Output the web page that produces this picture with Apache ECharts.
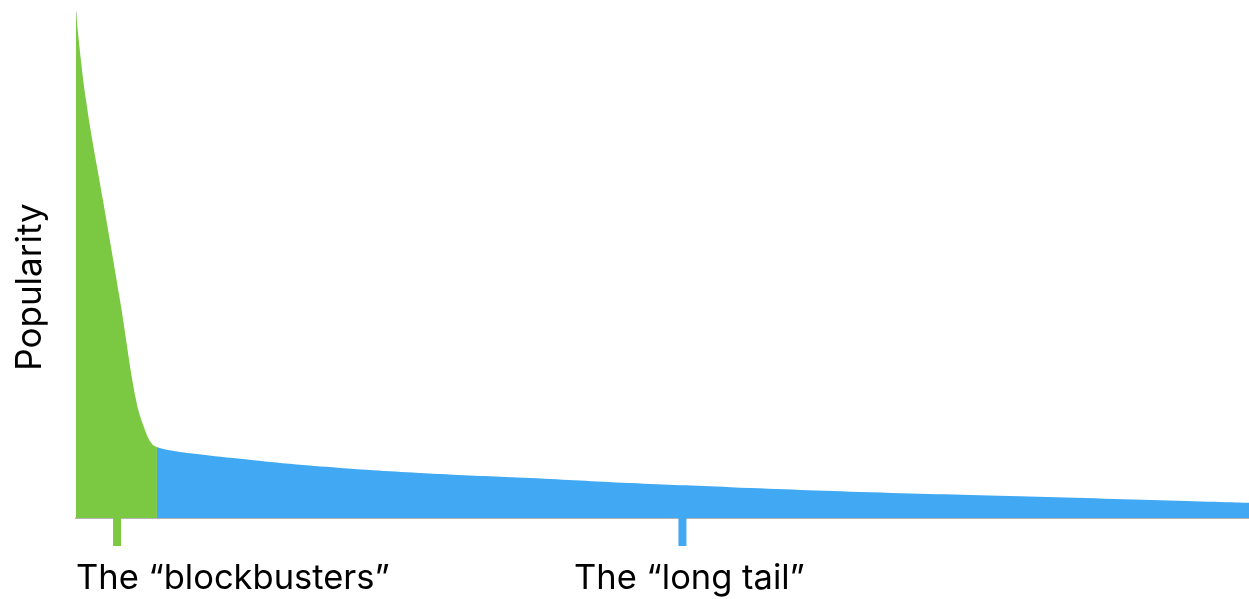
<!DOCTYPE html>
<html>
<head>
<meta charset="utf-8">
<script src="https://cdn.jsdelivr.net/npm/echarts@6/dist/echarts.min.js"></script>
<style>
html,body{margin:0;padding:0;background:#fff;}
#chart{width:1249px;height:599px;}
</style>
</head>
<body>
<div id="chart"></div>
<script>
// Rank of product (0..1000) vs popularity (0..100)
const blockbusterX = [0, 8.5, 23.0, 37.5, 51.2, 58.8, 64.8, 69];
const blockbusterY = [100, 82.6, 62.8, 43.1, 23.3, 17.4, 14.6, 14.0];
const longTailX = [69, 80, 97, 140, 182, 225, 310, 387, 472, 558, 677, 805, 1000];
const longTailY = [14.0, 13.4, 12.8, 11.7, 10.7, 9.9, 8.7, 7.9, 6.9, 6.1, 5.1, 4.3, 3.0];
const tickLabels = ['The \u201cblockbusters\u201d', 'The \u201clong tail\u201d'];
const tickX = [35, 517];
const yAxisTitle = 'Popularity';

const GREEN = '#7bc843';
const BLUE = '#41a8f3';
const FONT = 'Inter, "Liberation Sans", Arial, sans-serif';

const zip = (xs, ys) => xs.map((x, i) => [x, ys[i]]);
const tickColors = [GREEN, BLUE];
const labelStyles = [
  {align: 'left', offset: [-41, 1]},
  {align: 'center', offset: [7, 1]}
];

const chart = echarts.init(document.getElementById('chart'), null, {renderer: 'canvas'});
chart.setOption({
  animation: false,
  backgroundColor: '#fff',
  grid: {left: 76, right: 0, top: 12, bottom: 81},
  xAxis: {
    type: 'value', min: 0, max: 1000,
    axisLine: {show: true, lineStyle: {color: '#b4b4b4', width: 2}},
    axisTick: {show: false}, axisLabel: {show: false}, splitLine: {show: false}
  },
  yAxis: {
    type: 'value', min: 0, max: 100,
    axisLine: {show: true, lineStyle: {color: '#cfcfcf', width: 1}},
    axisTick: {show: false}, axisLabel: {show: false}, splitLine: {show: false}
  },
  graphic: [{
    type: 'text', x: 13, y: 287, originX: 0, originY: 0,
    rotation: Math.PI / 2,
    style: {text: yAxisTitle, font: '35px ' + FONT, fill: '#000', align: 'center', verticalAlign: 'top'}
  }],
  series: [
    {
      type: 'line', data: zip(longTailX, longTailY), smooth: 0.4, showSymbol: false,
      lineStyle: {width: 0}, areaStyle: {color: BLUE, opacity: 1}, z: 2
    },
    {
      type: 'line', data: zip(blockbusterX, blockbusterY), smooth: 0.4, showSymbol: false,
      lineStyle: {width: 0}, areaStyle: {color: GREEN, opacity: 1}, z: 3
    },
    {
      type: 'scatter', clip: false, z: 5,
      symbol: 'rect', symbolSize: [8, 28], symbolOffset: [0, 14],
      data: tickX.map((x, i) => ({
        value: [x, 0],
        itemStyle: {color: tickColors[i], opacity: 1},
        label: {
          show: true, formatter: tickLabels[i], position: 'bottom', distance: 14,
          align: labelStyles[i].align, offset: labelStyles[i].offset,
          color: '#000', opacity: 1, fontSize: 34.5, fontFamily: FONT
        }
      })),
      emphasis: {disabled: true}
    }
  ]
});
</script>
</body>
</html>
